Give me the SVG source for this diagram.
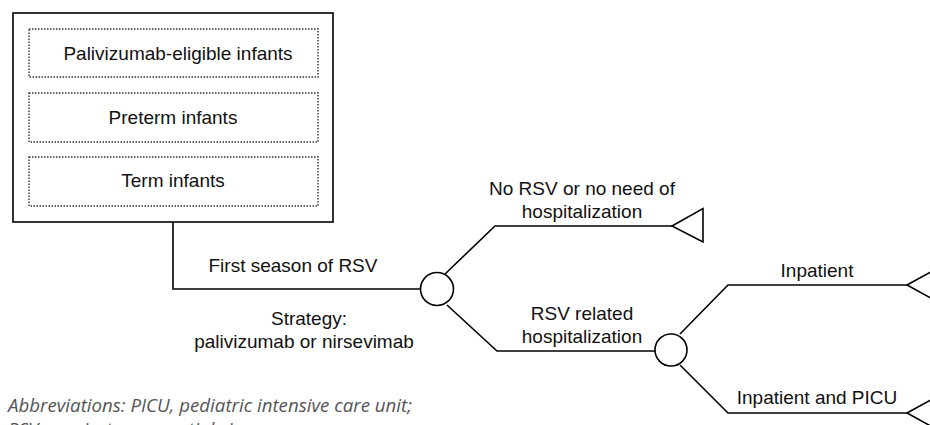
<svg xmlns="http://www.w3.org/2000/svg" width="930" height="425" viewBox="0 0 930 425">
<style>
.ln{fill:none;stroke:#000;stroke-width:1.6}
.dot{fill:none;stroke:#333;stroke-width:1.4;stroke-dasharray:1.5 1.5}
.t{font-family:"Liberation Sans",Arial,sans-serif;font-size:19px;fill:#111;text-anchor:middle}
.ab{font-family:"Open Sans",sans-serif;font-style:italic;font-size:18.7px;fill:#555}
.nd{fill:#fff;stroke:#000;stroke-width:1.6}
</style>
<rect width="930" height="425" fill="#fff"/>
<g id="connectors">
<polyline class="ln" points="173,222 173,289 420,289"/>
<polyline class="ln" points="445,274 495,226 672,226"/>
<polyline class="ln" points="447,305 497,351 655,351"/>
<polyline class="ln" points="680,334 728,285 907,285"/>
<polyline class="ln" points="680,365 728,413 907,413"/>
</g>
<g id="population">
<rect class="ln" x="13" y="13" width="320" height="209" fill="#fff"/>
<rect class="dot" x="29" y="29" width="289" height="48"/>
<text class="t" x="178" y="60">Palivizumab-eligible infants</text>
<rect class="dot" x="29" y="93" width="289" height="49"/>
<text class="t" x="173" y="124">Preterm infants</text>
<rect class="dot" x="29" y="157" width="289" height="49"/>
<text class="t" x="173" y="187">Term infants</text>
</g>
<g id="label-first">
<text class="t" x="293" y="272">First season of RSV</text>
<text class="t" x="309" y="325">Strategy:</text>
<text class="t" x="304" y="348">palivizumab or nirsevimab</text>
</g>
<g id="chance1"><circle class="nd" cx="437" cy="289" r="16.5"/></g>
<g id="no-rsv">
<text class="t" x="582" y="195">No RSV or no need of</text>
<text class="t" x="582" y="218">hospitalization</text>
<polygon class="ln" points="672,226 703,208.5 703,242"/>
</g>
<g id="rsv-hosp">
<text class="t" x="582" y="320">RSV related</text>
<text class="t" x="582" y="343">hospitalization</text>
</g>
<g id="chance2"><circle class="nd" cx="671" cy="350" r="16"/></g>
<g id="inpatient">
<text class="t" x="817" y="277">Inpatient</text>
<polygon class="ln" points="907,285 938,268 938,302"/>
</g>
<g id="inpatient-picu">
<text class="t" x="817" y="404">Inpatient and PICU</text>
<polygon class="ln" points="907,413 938,396 938,430"/>
</g>
<g id="footnote">
<text class="ab" x="8" y="412">Abbreviations: PICU, pediatric intensive care unit;</text>
<text class="ab" x="8" y="436">RSV, respiratory syncytial virus.</text>
</g>
</svg>
